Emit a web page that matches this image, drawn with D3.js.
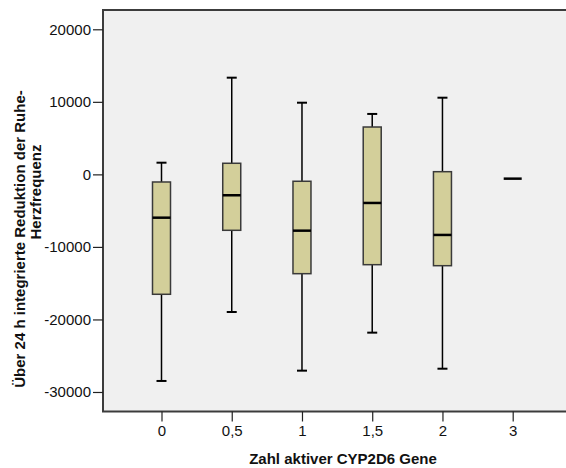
<!DOCTYPE html>
<html>
<head>
<meta charset="utf-8">
<script src="https://cdn.jsdelivr.net/npm/d3@7"></script>
<style>
  html, body { margin: 0; padding: 0; background: #ffffff; }
  svg { display: block; font-family: "Liberation Sans", Arial, sans-serif; }
</style>
</head>
<body>
<svg id="chart" width="566" height="468"></svg>
<script>
// Categories: number of active CYP2D6 genes
const categories = ["0", "0,5", "1", "1,5", "2", "3"];
// Box plot statistics per category
const whiskerHigh = [1610, 13330, 9880, 8330, 10570, -590];
const q3Values    = [-1050, 1530, -950, 6530, 370, -590];
const medians     = [-5970, -2880, -7760, -3940, -8350, -590];
const q1Values    = [-16530, -7710, -13690, -12450, -12590, -590];
const whiskerLow  = [-28480, -18970, -27060, -21820, -26790, -590];
const yTicks = [20000, 10000, 0, -10000, -20000, -30000];

const svg = d3.select("#chart");
const plot = { left: 103, top: 10, right: 571, bottom: 411.5 };

const x = d3.scalePoint().domain(categories).range([161.5, 512.7]);
const y = d3.scaleLinear().domain([-32690, 22660]).range([plot.bottom, plot.top]);

// Plot background and frame
svg.append("rect")
  .attr("x", plot.left).attr("y", plot.top)
  .attr("width", plot.right - plot.left).attr("height", plot.bottom - plot.top)
  .attr("fill", "#f0f0f0").attr("stroke", "#3c3c3c").attr("stroke-width", 2);

// Axes
const yAxis = d3.axisLeft(y).tickValues(yTicks).tickSize(10).tickPadding(2)
  .tickFormat(d => String(d));
const gy = svg.append("g").attr("transform", `translate(${plot.left},0)`).call(yAxis);
gy.select(".domain").remove();
gy.selectAll(".tick line").attr("stroke", "#222").attr("stroke-width", 1.2);
gy.selectAll(".tick text").attr("fill", "#111").style("font-size", "15px")
  .style("font-family", "Liberation Sans, Arial, sans-serif");

const xAxis = d3.axisBottom(x).tickSize(10).tickPadding(4);
const gx = svg.append("g").attr("transform", `translate(0,${plot.bottom})`).call(xAxis);
gx.select(".domain").remove();
gx.selectAll(".tick line").attr("stroke", "#222").attr("stroke-width", 1.2);
gx.selectAll(".tick text").attr("fill", "#111").style("font-size", "15px")
  .style("font-family", "Liberation Sans, Arial, sans-serif");

// Box plot marks
const stats = categories.map((c, i) => ({
  cat: c, hi: whiskerHigh[i], q3: q3Values[i], med: medians[i], q1: q1Values[i], lo: whiskerLow[i]
}));
const boxW = 18, capW = 10;
const g = svg.append("g");

stats.forEach(s => {
  const cx = x(s.cat);
  if (s.q3 === s.q1) {
    // a single observation collapses to one line
    g.append("line")
      .attr("x1", cx - boxW / 2).attr("x2", cx + boxW / 2)
      .attr("y1", y(s.med)).attr("y2", y(s.med))
      .attr("stroke", "#000").attr("stroke-width", 2.5);
    return;
  }
  // whiskers
  [[s.hi, s.q3], [s.lo, s.q1]].forEach(([end, edge]) => {
    g.append("line")
      .attr("x1", cx).attr("x2", cx).attr("y1", y(end)).attr("y2", y(edge))
      .attr("stroke", "#000").attr("stroke-width", 1.5);
    g.append("line")
      .attr("x1", cx - capW / 2).attr("x2", cx + capW / 2)
      .attr("y1", y(end)).attr("y2", y(end))
      .attr("stroke", "#000").attr("stroke-width", 2);
  });
  // box
  g.append("rect")
    .attr("x", cx - boxW / 2).attr("y", y(s.q3))
    .attr("width", boxW).attr("height", y(s.q1) - y(s.q3))
    .attr("fill", "#d3cf9a").attr("stroke", "#3a3a3a").attr("stroke-width", 1.5);
  // median
  g.append("line")
    .attr("x1", cx - boxW / 2).attr("x2", cx + boxW / 2)
    .attr("y1", y(s.med)).attr("y2", y(s.med))
    .attr("stroke", "#000").attr("stroke-width", 2.5);
});

// Axis titles
svg.append("text")
  .attr("x", 343).attr("y", 464)
  .attr("text-anchor", "middle")
  .style("font-size", "15px").style("font-weight", "bold").attr("fill", "#111")
  .text("Zahl aktiver CYP2D6 Gene");

const yTitle = svg.append("g").attr("font-size", "15px").attr("font-weight", "bold").attr("fill", "#111");
yTitle.append("text")
  .attr("transform", "translate(25,239) rotate(-90)")
  .attr("text-anchor", "middle")
  .text("Über 24 h integrierte Reduktion der Ruhe-");
yTitle.append("text")
  .attr("transform", "translate(41,192) rotate(-90)")
  .attr("text-anchor", "middle")
  .text("Herzfrequenz");
</script>
</body>
</html>
